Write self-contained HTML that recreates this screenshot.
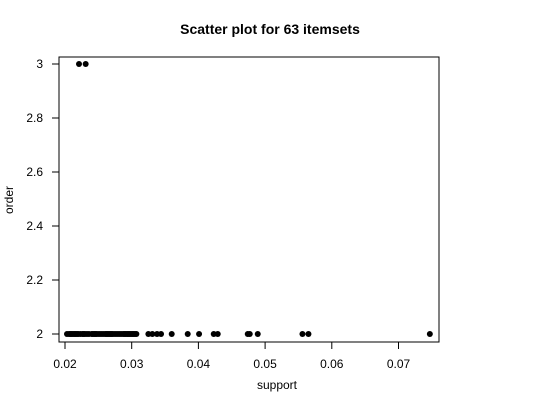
<!DOCTYPE html>
<html><head><meta charset="utf-8"><style>
body{margin:0;background:#fff}
svg text{font-family:"Liberation Sans",sans-serif;fill:#000}
</style></head><body>
<svg id="chart" width="540" height="400">
<text x="270" y="34" text-anchor="middle" font-size="14" font-weight="bold">Scatter plot for 63 itemsets</text>
<rect x="59" y="57" width="380" height="285" fill="none" stroke="#000"/>
<text x="277" y="389" text-anchor="middle" font-size="12">support</text>
<text transform="translate(13,200) rotate(-90)" text-anchor="middle" font-size="12">order</text>
<g id="axes"></g><g id="pts"></g>
</svg>
<script>
const xTicks=[0.02,0.03,0.04,0.05,0.06,0.07];
const yTicks=[2,2.2,2.4,2.6,2.8,3];
const supportValues=[0.0221,0.0231,
0.0203,0.0206,0.0208,0.0210,0.0212,0.0214,0.0216,0.0218,0.0220,0.0223,0.0226,0.0228,0.0230,
0.0233,0.0236,0.0240,0.0242,0.0244,0.0246,0.0248,0.0251,0.0254,0.0257,0.0260,0.0262,0.0264,
0.0266,0.0268,0.0270,0.0272,0.0275,0.0278,0.0281,0.0284,0.0287,0.0289,0.0291,0.0293,0.0295,
0.0297,0.0299,0.0301,0.0303,0.0305,0.0307,
0.0325,0.0331,0.0338,0.0344,0.0360,0.0384,0.0401,0.0423,0.0429,0.0474,0.0477,0.0489,0.0556,0.0565,0.0747];
const orderValues=[3,3,2,2,2,2,2,2,2,2,2,2,2,2,2,2,2,2,2,2,2,2,2,2,2,2,2,2,2,2,2,2,2,2,2,2,2,2,2,2,2,2,2,2,2,2,2,2,2,2,2,2,2,2,2,2,2,2,2,2,2,2,2];
const xs=v=>65+(v-0.02)*6670;
const ys=v=>334-(v-2)*270;
const NS="http://www.w3.org/2000/svg";
const ax=document.getElementById('axes'),pg=document.getElementById('pts');
function mk(t,a,p){const e=document.createElementNS(NS,t);for(const k in a)e.setAttribute(k,a[k]);p.appendChild(e);return e;}
xTicks.forEach(v=>{
 const l=mk('line',{x1:xs(v),x2:xs(v),y1:342,y2:349,stroke:'#000'},ax);
 
 
 const t=mk('text',{x:xs(v),y:368,'text-anchor':'middle','font-size':12},ax);t.textContent=v;
 
 
});
yTicks.forEach(v=>{
 const l=mk('line',{x1:52,x2:59,y1:ys(v),y2:ys(v),stroke:'#000'},ax);
 
 
 const t=mk('text',{x:43,y:ys(v)+4,'text-anchor':'end','font-size':12},ax);t.textContent=String(v);
 
 
});
supportValues.forEach((v,i)=>{
 const c=mk('circle',{cx:xs(v),cy:ys(orderValues[i]),r:3,fill:'#000'},pg);
 
 
});
</script>
</body></html>
